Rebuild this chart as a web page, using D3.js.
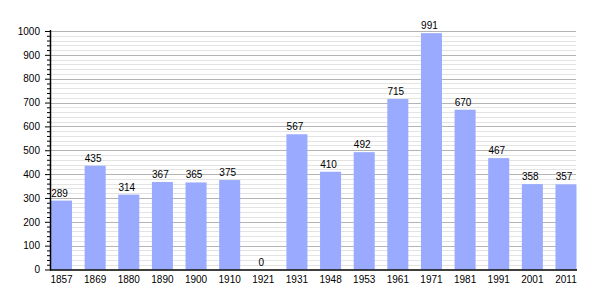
<!DOCTYPE html>
<html>
<head>
<meta charset="utf-8">
<script src="https://cdn.jsdelivr.net/npm/d3@7"></script>
<style>
  body { margin: 0; background: #fff; }
  text { font-family: "Liberation Sans", Arial, sans-serif; font-size: 10px; fill: #000; }
</style>
</head>
<body>
<div id="chart"></div>
<script>
const years = ["1857", "1869", "1880", "1890", "1900", "1910", "1921", "1931", "1948", "1953", "1961", "1971", "1981", "1991", "2001", "2011"];
const population = [289, 435, 314, 367, 365, 375, 0, 567, 410, 492, 715, 991, 670, 467, 358, 357];
const yTicks = [0, 100, 200, 300, 400, 500, 600, 700, 800, 900, 1000];

window.onload = () => {
    var w = 605;
    var h = 300;
    var left = 50, right = 577.5, top = 31, bottom = 269.5;

    var svg = d3.select("#chart")
        .append("svg")
        .attr("width", w)
        .attr("height", h);

    var xScale = d3.scaleBand()
        .domain(years)
        .range([left, right])
        .paddingInner(0.375)
        .paddingOuter(0.03);

    var yScale = d3.scaleLinear()
        .domain([0, 1000])
        .range([bottom, top]);

    // minor grid every 20
    var minor = d3.range(20, 1001, 20).filter(v => v % 100 !== 0);
    svg.append("g").selectAll("line")
        .data(minor)
        .enter().append("line")
        .attr("x1", left).attr("x2", 576)
        .attr("y1", d => Math.round(yScale(d)) + 0.5)
        .attr("y2", d => Math.round(yScale(d)) + 0.5)
        .attr("stroke", "#e3e3e3");

    svg.append("g").selectAll("line")
        .data(yTicks.slice(1))
        .enter().append("line")
        .attr("x1", left).attr("x2", 576)
        .attr("y1", d => Math.round(yScale(d)) + 0.5)
        .attr("y2", d => Math.round(yScale(d)) + 0.5)
        .attr("stroke", "#b4b4b4");

    svg.append("g").selectAll("rect")
        .data(population)
        .enter().append("rect")
        .attr("x", (d, i) => xScale(years[i]))
        .attr("width", xScale.bandwidth())
        .attr("y", d => yScale(d))
        .attr("height", d => bottom - yScale(d))
        .attr("fill", "#99aaff");

    svg.append("g").selectAll("text")
        .data(population)
        .enter().append("text")
        .attr("x", (d, i) => xScale(years[i]) + xScale.bandwidth() / 2 - 2)
        .attr("y", d => yScale(d) - 4)
        .attr("text-anchor", "middle")
        .text(d => d);

    // y axis with minor ticks
    var yAxis = d3.axisLeft(yScale)
        .tickValues(yTicks)
        .tickFormat(d3.format("d"))
        .tickSize(5)
        .tickPadding(5);
    var gy = svg.append("g")
        .attr("transform", `translate(${left},0)`)
        .call(yAxis);
    gy.select(".domain").remove();
    gy.selectAll("text").style("font-size", "10px").style("font-family", null);

    var yMinor = d3.axisLeft(yScale)
        .tickValues(minor)
        .tickSize(3)
        .tickFormat("");
    var gm = svg.append("g")
        .attr("transform", `translate(${left},0)`)
        .call(yMinor);
    gm.select(".domain").remove();

    svg.append("line")
        .attr("x1", left + 0.5).attr("x2", left + 0.5)
        .attr("y1", top - 1).attr("y2", bottom + 1)
        .attr("stroke", "#000").attr("stroke-width", 1.5);

    var xAxis = d3.axisBottom(xScale)
        .tickSize(0)
        .tickPadding(6);
    var gx = svg.append("g")
        .attr("transform", `translate(0,${bottom + 0.5})`)
        .call(xAxis);
    gx.select(".domain").remove();
    gx.selectAll("text").style("font-size", "10px").style("font-family", null);

    svg.append("line")
        .attr("x1", left).attr("x2", 577)
        .attr("y1", bottom + 0.5).attr("y2", bottom + 0.5)
        .attr("stroke", "#000").attr("stroke-width", 1.5);
};
</script>
</body>
</html>
